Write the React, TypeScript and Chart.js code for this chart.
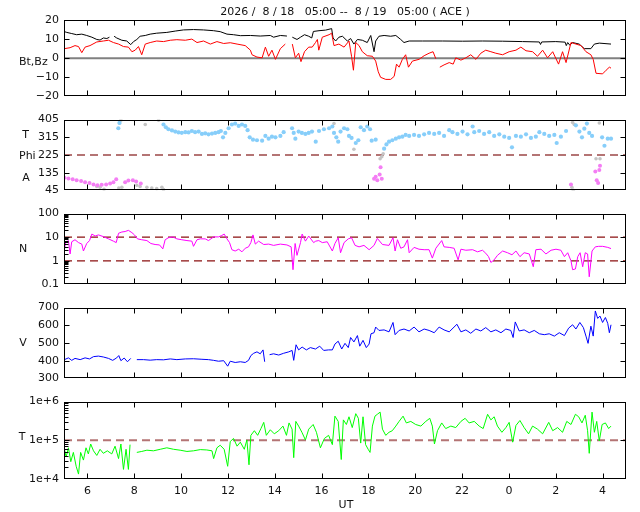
import React, { useEffect, useRef } from "react";
import { Chart, registerables } from "chart.js";

Chart.register(...registerables);

// ---------- data (hours since 00 UT on 8/18; values > 24 are 8/19) ----------
const X_MIN = 5;
const X_MAX = 29;
const hourTicks = [6, 8, 10, 12, 14, 16, 18, 20, 22, 24, 26, 28];

const btSeries = [
  [5.02, 13.9], [5.12, 13.5], [5.33, 12.9], [5.54, 12.3], [5.76, 12.6], [5.97, 11.9], [6.19, 11.0], [6.4, 9.8],
  [6.54, 9.5], [6.68, 10.6], [6.83, 10.3], [6.94, 11.0], [7.04, null], [7.14, 11.5], [7.25, 10.6], [7.47, 9.4],
  [7.68, 9.0], [7.85, 7.1], [7.97, 8.7], [8.11, 9.8], [8.25, 11.5], [8.47, 11.9], [8.68, 12.6], [8.96, 13.1],
  [9.39, 13.5], [9.75, 14.2], [10.1, 14.8], [10.53, 15.0], [10.96, 14.8], [11.39, 14.4], [11.67, 13.9],
  [11.96, 12.6], [12.24, 12.3], [12.53, 11.8], [12.96, 11.9], [13.38, 11.6], [13.81, 11.9], [13.95, 11.0],
  [14.24, 11.9], [14.52, 11.6], [14.64, null], [14.75, 11.0], [14.95, 9.8], [15.1, 11.0], [15.27, 12.3],
  [15.45, 11.5], [15.58, 10.6], [15.65, 14.0], [15.89, 14.4], [16.17, 14.7], [16.43, 15.5], [16.49, 10.6],
  [16.6, 9.0], [16.74, 11.0], [16.89, 11.5], [17.1, 9.0], [17.24, 10.3], [17.38, 7.4], [17.53, 9.8],
  [17.74, 9.4], [17.95, 8.2], [18.1, 11.9], [18.24, 3.4], [18.31, 9.0], [18.45, 11.5], [18.67, 11.9],
  [18.95, 11.5], [19.17, 11.9], [19.38, 9.8], [19.52, 8.2], [19.74, 9.0], [20.31, 9.0], [21.16, 9.0],
  [22.02, 8.9], [22.87, 9.0], [23.73, 8.9], [24.58, 8.7], [25.3, 8.5], [25.35, 7.2], [25.4, 8.5], [26.0, 8.7],
  [26.4, 8.4], [26.45, 6.6], [26.51, 8.2], [26.6, 6.8], [26.72, 8.2], [27.0, 7.4], [27.22, 5.0], [27.5, 5.0],
  [27.65, 7.4], [27.86, 7.9], [28.36, 7.4],
];

const bzSeries = [
  [5.02, 5.0], [5.26, 5.5], [5.47, 6.6], [5.62, 6.1], [5.76, 2.9], [5.9, 5.8], [6.11, 6.6], [6.4, 8.5],
  [6.68, 9.0], [6.9, 9.4], [7.11, 8.2], [7.33, 7.4], [7.54, 6.1], [7.75, 5.8], [7.9, 3.4], [8.04, 4.2],
  [8.18, 6.1], [8.32, 1.8], [8.47, 7.4], [8.68, 8.2], [8.96, 9.0], [9.25, 8.7], [9.54, 9.4], [9.82, 9.7],
  [10.18, 9.4], [10.46, 10.0], [10.68, 8.2], [10.96, 9.0], [11.25, 7.4], [11.53, 8.7], [11.82, 7.7],
  [12.1, 8.1], [12.39, 7.4], [12.74, 6.6], [12.96, 4.2], [13.03, 1.8], [13.24, 0.6], [13.46, 0.2],
  [13.6, 5.8], [13.74, 1.0], [13.88, 4.2], [14.03, -0.6], [14.24, 5.0], [14.45, 7.4], [14.61, null],
  [14.75, 7.4], [14.88, 0.2], [15.02, 2.6], [15.12, -1.8], [15.27, 3.4], [15.45, 5.8], [15.6, 5.8],
  [15.74, 8.2], [15.82, 9.8], [15.88, 4.2], [16.03, 11.0], [16.32, 12.3], [16.43, 13.1], [16.53, 6.6],
  [16.74, 7.4], [16.96, 5.8], [17.17, 9.0], [17.28, 1.0], [17.36, -6.3], [17.46, 8.2], [17.6, 6.6],
  [17.74, 3.4], [17.95, 1.3], [18.17, 1.0], [18.31, -1.5], [18.42, -7.1], [18.52, -10.0], [18.74, -11.1],
  [18.95, -11.1], [19.1, -9.5], [19.2, -3.1], [19.31, -4.7], [19.45, -0.6], [19.59, 1.8], [19.71, -4.7],
  [19.88, -1.5], [20.16, -0.6], [20.38, 1.3], [20.59, 2.6], [20.76, 3.4], [20.88, -0.3], [20.96, null],
  [21.05, -4.7], [21.23, -3.5], [21.45, -2.3], [21.62, -3.1], [21.73, 0.2], [21.95, -1.0], [22.16, 0.2],
  [22.37, 1.8], [22.59, -0.6], [22.8, 2.6], [23.01, 4.2], [23.23, 3.4], [23.44, 2.6], [23.73, 1.8],
  [24.01, 3.4], [24.3, 4.2], [24.51, 5.8], [24.73, 3.9], [25.01, 3.4], [25.22, 1.0], [25.44, 4.2],
  [25.65, 0.2], [25.87, 3.4], [26.12, -3.1], [26.29, 3.4], [26.44, -2.3], [26.65, 8.2], [26.86, 7.4],
  [27.08, 6.6], [27.29, 3.4], [27.5, 1.8], [27.6, -0.6], [27.72, -7.9], [28.0, -8.2], [28.15, -6.3],
  [28.29, -4.7], [28.36, -5.2],
];

const phiBluePoints = [
  [7.32, 361], [7.37, 388], [9.25, 380], [9.35, 366], [9.46, 356], [9.61, 350], [9.75, 344], [9.89, 340],
  [10.03, 338], [10.18, 341], [10.32, 340], [10.46, 347], [10.6, 341], [10.75, 344], [10.89, 332],
  [11.03, 335], [11.17, 330], [11.32, 334], [11.46, 337], [11.6, 341], [11.7, 347], [11.79, 315],
  [11.89, 337], [12.03, 361], [12.17, 380], [12.31, 385], [12.46, 373], [12.6, 380], [12.74, 373],
  [12.84, 351], [12.93, 315], [13.07, 303], [13.24, 300], [13.46, 298], [13.6, 322], [13.74, 308],
  [13.88, 318], [14.03, 315], [14.24, 322], [14.38, 341], [14.74, 361], [14.81, 337], [14.88, 308],
  [15.02, 344], [15.16, 337], [15.31, 332], [15.45, 337], [15.59, 344], [15.75, 293], [15.89, 347],
  [16.1, 356], [16.32, 361], [16.46, 370], [16.53, 337], [16.63, 315], [16.71, 293], [16.81, 344],
  [16.96, 361], [17.1, 356], [17.17, 322], [17.28, 312], [17.46, 286], [17.57, 300], [17.67, 366],
  [17.81, 351], [17.95, 370], [18.07, 356], [18.14, 298], [18.31, 303], [18.67, 257], [18.77, 279],
  [18.88, 293], [19.02, 300], [19.17, 308], [19.31, 315], [19.45, 318], [19.59, 327], [19.74, 322],
  [19.95, 327], [20.16, 322], [20.38, 330], [20.59, 337], [20.81, 332], [21.02, 337], [21.23, 322],
  [21.45, 351], [21.59, 341], [21.8, 332], [22.02, 344], [22.23, 330], [22.45, 370], [22.52, 341],
  [22.73, 347], [22.94, 332], [23.16, 341], [23.37, 322], [23.59, 330], [23.8, 318], [24.01, 312],
  [24.13, 264], [24.3, 322], [24.51, 318], [24.73, 330], [24.94, 312], [25.15, 318], [25.3, 341],
  [25.51, 332], [25.72, 322], [25.94, 327], [26.04, 286], [26.22, 318], [26.44, 347], [26.86, 376],
  [27.01, 344], [27.12, 315], [27.22, 359], [27.33, 385], [27.43, 337], [27.55, 322], [27.98, 315],
  [28.08, 272], [28.22, 308], [28.36, 308],
];

const phiMagentaPoints = [
  [5.02, 109], [5.19, 105], [5.37, 102], [5.54, 97], [5.73, 93], [5.9, 87], [6.09, 83], [6.26, 75],
  [6.43, 71], [6.61, 74], [6.8, 75], [6.97, 80], [7.11, 86], [7.23, 102], [7.61, 86], [7.75, 95],
  [7.94, 97], [8.08, 90], [8.28, 80], [18.24, 104], [18.31, 115], [18.38, 97], [18.48, 126],
  [18.52, 163], [18.57, 104], [26.65, 75], [27.69, 141], [27.75, 97], [27.81, 83], [27.86, 149],
  [27.89, 170],
];

const phiGrayPoints = [
  [6.4, 65], [6.54, 61], [6.71, 51], [7.34, 57], [7.37, 388], [7.43, 402], [7.47, 61], [8.11, 71],
  [8.25, 65], [8.47, 380], [8.54, 61], [8.75, 57], [8.96, 54], [9.04, 402], [9.18, 61], [9.25, 49],
  [16.53, 385], [17.38, 254], [18.5, 206], [18.57, 216], [18.63, 231], [26.69, 61], [26.72, 390],
  [26.75, 46], [26.79, 380], [27.72, 206], [27.86, 388], [27.89, 206],
];

const densitySeries = [
  [5.02, 2.95], [5.07, 5.9], [5.19, 7.2], [5.26, 1.95], [5.33, 6.4], [5.47, 7.8], [5.62, 5.9], [5.76, 5.1],
  [5.83, 2.6], [5.97, 5.4], [6.09, 7.2], [6.19, 13.6], [6.33, 11.2], [6.47, 12.5], [6.68, 10.6], [6.9, 8.5],
  [7.11, 6.8], [7.23, 5.9], [7.33, 14.7], [7.47, 16.6], [7.61, 17.4], [7.75, 19.5], [7.9, 15.6],
  [8.01, 12.5], [8.14, 8.5], [8.32, 7.8], [8.54, 7.2], [8.71, 5.4], [8.89, 4.9], [9.08, 4.7], [9.22, 3.2],
  [9.32, 7.8], [9.46, 9.5], [9.65, 10.3], [9.82, 8.5], [10.03, 7.8], [10.25, 7.2], [10.46, 6.8],
  [10.53, 4.1], [10.68, 7.8], [10.82, 8.5], [11.03, 8.5], [11.17, 7.2], [11.39, 10.3], [11.6, 10.3],
  [11.74, 11.8], [11.84, 13.6], [11.96, 8.5], [12.07, 5.9], [12.17, 2.95], [12.31, 2.6], [12.46, 3.1],
  [12.6, 2.4], [12.74, 3.4], [12.88, 3.9], [12.98, 5.9], [13.07, 12.5], [13.17, 5.1], [13.31, 6.8],
  [13.53, 4.9], [13.74, 5.1], [13.95, 4.5], [14.24, 5.1], [14.52, 4.7], [14.7, 3.9], [14.78, 0.42],
  [14.87, 5.4], [14.95, 1.7], [15.1, 5.9], [15.17, 13.6], [15.31, 6.8], [15.45, 11.2], [15.66, 5.9],
  [15.75, 6.8], [15.88, 7.2], [16.03, 5.9], [16.24, 6.4], [16.46, 2.6], [16.57, 5.4], [16.71, 9.5],
  [16.81, 2.2], [16.96, 5.9], [17.14, 8.5], [17.28, 9.5], [17.43, 4.5], [17.6, 3.9], [17.81, 4.5],
  [18.03, 2.95], [18.24, 4.5], [18.38, 8.9], [18.6, 4.9], [18.88, 4.5], [19.05, 9.5], [19.14, 2.6],
  [19.24, 7.8], [19.38, 3.4], [19.52, 3.9], [19.67, 7.8], [19.74, 2.2], [19.95, 3.7], [20.16, 3.1],
  [20.38, 2.95], [20.59, 2.95], [20.73, 1.3], [20.88, 3.4], [21.13, 7.2], [21.23, 3.9], [21.45, 3.7],
  [21.66, 3.4], [21.83, 1.1], [21.95, 3.1], [22.16, 2.8], [22.45, 2.95], [22.66, 2.4], [22.87, 2.8],
  [23.01, 2.1], [23.13, 1.5], [23.23, 0.85], [23.37, 1.1], [23.51, 1.7], [23.73, 2.6], [23.94, 2.2],
  [24.13, 1.8], [24.3, 2.6], [24.47, 1.5], [24.65, 2.2], [24.87, 1.95], [25.04, 0.56], [25.15, 2.95],
  [25.37, 3.1], [25.58, 1.95], [25.8, 2.8], [26.01, 3.1], [26.22, 2.8], [26.37, 1.5], [26.51, 2.2],
  [26.65, 1.0], [26.72, 0.42], [26.84, 0.45], [26.94, 1.5], [27.04, 2.2], [27.15, 0.56], [27.26, 2.2],
  [27.36, 1.95], [27.43, 0.21], [27.55, 2.6], [27.69, 3.9], [27.83, 4.1], [28.0, 4.1], [28.22, 3.7],
  [28.36, 3.3],
];

const speedSeries = [
  [5.02, 406], [5.19, 416], [5.33, 402], [5.47, 413], [5.69, 406], [5.9, 416], [6.09, 410], [6.26, 423],
  [6.47, 426], [6.68, 421], [6.9, 413], [7.08, 402], [7.25, 416], [7.34, 429], [7.43, 400], [7.57, 415],
  [7.71, 394], [7.85, 413], [7.97, null], [8.11, 406], [8.4, 406], [8.68, 403], [8.96, 406], [9.25, 405],
  [9.54, 410], [9.82, 406], [10.18, 410], [10.53, 411], [10.89, 408], [11.17, 406], [11.39, 402],
  [11.6, 397], [11.82, 400], [11.99, 369], [12.1, 397], [12.31, 390], [12.53, 394], [12.74, 390],
  [12.88, 402], [12.98, 429], [13.1, 442], [13.24, 450], [13.38, 439], [13.5, 461], [13.57, 394],
  [13.65, null], [13.78, 434], [13.95, 439], [14.17, 432], [14.38, 442], [14.6, 450], [14.74, 458],
  [14.81, 402], [14.91, 490], [15.02, 461], [15.17, 477], [15.35, 461], [15.52, 474], [15.74, 466],
  [15.92, 482], [16.09, 458], [16.3, 461], [16.46, 461], [16.57, 494], [16.71, 510], [16.86, 466],
  [17.0, 498], [17.14, 474], [17.24, 531], [17.38, 506], [17.53, 542], [17.63, 482], [17.77, 515],
  [17.91, 474], [18.03, 494], [18.11, 552], [18.24, 558], [18.31, 590], [18.45, 571], [18.67, 574],
  [18.88, 563], [19.05, 616], [19.14, 547], [19.31, 571], [19.52, 579], [19.74, 568], [19.95, 590],
  [20.16, 563], [20.38, 579], [20.59, 571], [20.81, 558], [21.02, 590], [21.23, 574], [21.45, 563],
  [21.78, 606], [21.95, 563], [22.16, 574], [22.37, 555], [22.59, 579], [22.8, 568], [23.01, 587],
  [23.23, 563], [23.44, 574], [23.66, 558], [23.87, 579], [24.08, 571], [24.18, 531], [24.27, 619],
  [24.44, 568], [24.65, 574], [24.87, 558], [25.08, 571], [25.3, 552], [25.51, 547], [25.72, 552],
  [25.94, 539], [26.15, 558], [26.37, 542], [26.55, 584], [26.72, 603], [26.86, 579], [27.03, 616],
  [27.18, 587], [27.29, 539], [27.38, 498], [27.5, 595], [27.6, 539], [27.69, 681], [27.79, 639],
  [27.89, 652], [28.0, 616], [28.12, 644], [28.22, 611], [28.29, 558], [28.36, 603],
];

const tempSeries = [
  [5.02, 58600], [5.09, 37000], [5.19, 64000], [5.29, 28000], [5.4, 48700], [5.52, 21300], [5.62, 13400],
  [5.71, 48700], [5.83, 30800], [5.94, 64000], [6.04, 44500], [6.14, 80200], [6.26, 53500], [6.4, 40600],
  [6.54, 58600], [6.68, 46100], [6.85, 53500], [7.04, 44500], [7.18, 70500], [7.33, 33700], [7.43, 80200],
  [7.54, 17700], [7.65, 58600], [7.75, 17700], [7.82, 77300], [7.95, null], [8.11, 48700], [8.32, 51500],
  [8.54, 55500], [8.82, 53500], [9.11, 58600], [9.39, 64000], [9.68, 58600], [9.96, 55500],
  [10.25, 51500], [10.53, 53500], [10.82, 57500], [11.1, 56300], [11.32, 53500], [11.39, 33700],
  [11.53, 64000], [11.67, 74500], [11.84, 58600], [11.99, 21300], [12.1, 92900], [12.24, 111700],
  [12.39, 70500], [12.53, 89500], [12.7, 58600], [12.81, 101900], [12.9, 23300], [12.98, 134300],
  [13.13, 177000], [13.27, 134300], [13.41, 201000], [13.53, 291000], [13.64, 134300], [13.81, 187000],
  [13.98, 147000], [14.17, 177000], [14.35, 233000], [14.5, 134300], [14.61, 281000], [14.74, 194000],
  [14.81, 35600], [14.9, 308000], [15.02, 233000], [15.16, 161000], [15.31, 101900], [15.45, 194000],
  [15.64, 256000], [15.78, 161000], [15.95, 64000], [16.12, 111700], [16.3, 134300], [16.46, 77300],
  [16.57, 421000], [16.71, 308000], [16.84, 31900], [16.93, 337000], [17.06, 256000], [17.17, 405000],
  [17.31, 213000], [17.46, 488000], [17.57, 370000], [17.67, 84700], [17.77, 405000], [17.88, 77300],
  [17.99, 58600], [18.07, 48700], [18.17, 233000], [18.28, 421000], [18.38, 470000], [18.5, 535000],
  [18.6, 194000], [18.74, 134300], [18.88, 161000], [19.02, 177000], [19.17, 233000], [19.31, 308000],
  [19.48, 421000], [19.62, 281000], [19.81, 308000], [20.02, 256000], [20.24, 233000], [20.45, 308000],
  [20.62, 370000], [20.73, 233000], [20.82, 80200], [20.95, 177000], [21.13, 281000], [21.3, 201000],
  [21.52, 233000], [21.73, 213000], [21.95, 308000], [22.13, 370000], [22.3, 281000], [22.52, 308000],
  [22.73, 233000], [22.9, 201000], [23.09, 470000], [23.23, 337000], [23.37, 405000], [23.51, 233000],
  [23.7, 161000], [23.87, 213000], [24.01, 291000], [24.16, 89500], [24.3, 242000], [24.47, 325000],
  [24.65, 213000], [24.84, 147000], [25.01, 233000], [25.22, 194000], [25.44, 147000], [25.7, 291000],
  [25.87, 177000], [26.08, 213000], [26.29, 161000], [26.47, 308000], [26.65, 256000], [26.84, 470000],
  [26.98, 405000], [27.12, 281000], [27.26, 444000], [27.36, 177000], [27.43, 46100], [27.55, 535000],
  [27.65, 161000], [27.75, 308000], [27.86, 96400], [27.98, 256000], [28.12, 281000], [28.26, 201000],
  [28.36, 233000],
];

const bTickValues = [-20, -10, 0, 10, 20];
const bTickLabels = ["\u221220", "\u221210", "0", "10", "20"];
const phiTickValues = [45, 135, 225, 315, 405];
const phiTickLabels = ["45", "135", "225", "315", "405"];
const nTickValues = [0.1, 1, 10, 100];
const nTickLabels = ["0.1", "1", "10", "100"];
const vTickValues = [300, 400, 500, 600, 700];
const vTickLabels = ["300", "400", "500", "600", "700"];
const tTickValues = [1e4, 1e5, 1e6];
const tTickLabels = ["1e+4", "1e+5", "1e+6"];

const zeroLineB = 0;
const phiRefLine = 225;
const nRefLines = [10, 1];
const tRefLine = 1e5;

// ---------- helpers ----------
const FONT = "'DejaVu Sans', sans-serif";

const toXY = (arr: any[]) => arr.map((p) => ({ x: p[0], y: p[1] }));
const hLine = (v: number) => [{ x: X_MIN, y: v }, { x: X_MAX, y: v }];

const logMinors = (lo: number, hi: number) => {
  const out: number[] = [];
  for (let d = lo; d < hi * 0.99; d *= 10) for (let k = 2; k <= 9; k++) out.push(d * k);
  return out;
};

const framePlugin = {
  id: "frame",
  afterDatasetsDraw(chart: any, _args: any, opts: any) {
    const { ctx, chartArea } = chart;
    const xs = chart.scales.x;
    const ys = chart.scales.y;
    const L = Math.round(chartArea.left) + 0.5;
    const R = Math.round(chartArea.right) - 0.5;
    const T = Math.round(chartArea.top) + 0.5;
    const B = Math.round(chartArea.bottom) - 0.5;
    ctx.save();
    ctx.strokeStyle = "#000";
    ctx.lineWidth = 1;
    ctx.beginPath();
    for (const h of hourTicks) {
      const px = Math.round(xs.getPixelForValue(h)) + 0.5;
      ctx.moveTo(px, T);
      ctx.lineTo(px, T + 5);
      ctx.moveTo(px, B);
      ctx.lineTo(px, B - 5);
    }
    for (const v of opts.major || []) {
      const py = Math.round(ys.getPixelForValue(v)) + 0.5;
      if (py <= T + 1 || py >= B - 1) continue;
      ctx.moveTo(L, py);
      ctx.lineTo(L + 5, py);
      ctx.moveTo(R, py);
      ctx.lineTo(R - 5, py);
    }
    for (const v of opts.minor || []) {
      const py = Math.round(ys.getPixelForValue(v)) + 0.5;
      ctx.moveTo(L, py);
      ctx.lineTo(L + 4, py);
    }
    ctx.stroke();
    ctx.strokeRect(L, T, R - L, B - T);
    ctx.restore();
  },
};

type Spec = {
  top: number;
  height: number;
  padTop: number;
  padBottom: number;
  yType: "linear" | "logarithmic";
  yMin: number;
  yMax: number;
  tickValues: number[];
  tickLabels: string[];
  minor?: number[];
  datasets: any[];
  showX?: boolean;
};

function Panel({ spec }: { spec: Spec }) {
  const ref = useRef<HTMLCanvasElement>(null);
  useEffect(() => {
    const chart = new Chart(ref.current as HTMLCanvasElement, {
      type: "line",
      data: { datasets: spec.datasets },
      options: {
        responsive: false,
        animation: false,
        events: [],
        layout: { padding: { left: 0, right: 14, top: spec.padTop, bottom: spec.padBottom } },
        plugins: {
          legend: { display: false },
          tooltip: { enabled: false },
          frame: { major: spec.tickValues, minor: spec.minor || [] },
        } as any,
        elements: { line: { tension: 0 } },
        scales: {
          x: {
            type: "linear",
            min: X_MIN,
            max: X_MAX,
            display: !!spec.showX,
            grid: { display: false, drawTicks: false },
            border: { display: false },
            ticks: {
              padding: 6,
              color: "#111",
              font: { family: FONT, size: 11 },
              maxRotation: 0,
              autoSkip: false,
              callback: (v: any) => String(Number(v) % 24),
            },
            afterBuildTicks: (s: any) => {
              s.ticks = hourTicks.map((v) => ({ value: v }));
            },
            afterFit: (s: any) => {
              s.height = spec.showX ? 33 : 0;
            },
          },
          y: {
            type: spec.yType,
            min: spec.yMin,
            max: spec.yMax,
            grid: { display: false, drawTicks: false },
            border: { display: false },
            ticks: {
              padding: 5,
              color: "#111",
              font: { family: FONT, size: 11 },
              autoSkip: false,
              callback: (v: any) => {
                const i = spec.tickValues.findIndex((t) => Math.abs(t - Number(v)) < Math.abs(t) * 1e-6 + 1e-9);
                return i >= 0 ? spec.tickLabels[i] : "";
              },
            },
            afterBuildTicks: (s: any) => {
              s.ticks = spec.tickValues.map((v) => ({ value: v }));
            },
            afterFit: (s: any) => {
              s.width = 64;
            },
          },
        } as any,
      },
      plugins: [framePlugin as any],
    });
    return () => chart.destroy();
  }, []);
  return (
    <canvas
      ref={ref}
      width={640}
      height={spec.height}
      style={{ position: "absolute", left: 0, top: spec.top, width: 640, height: spec.height }}
    />
  );
}

const lineDs = (data: any[], color: string, width = 1) => ({
  data: toXY(data),
  borderColor: color,
  borderWidth: width,
  pointRadius: 0,
  spanGaps: false,
  fill: false,
});

const refDs = (v: number, color: string, width: number, dash: number[] = []) => ({
  data: hLine(v),
  borderColor: color,
  borderWidth: width,
  borderDash: dash,
  pointRadius: 0,
  fill: false,
});

const dotDs = (data: any[], color: string, r = 1.8) => ({
  data: toXY(data),
  showLine: false,
  pointRadius: r,
  pointBorderWidth: 0,
  pointBackgroundColor: color,
  borderColor: color,
});

const specs: Spec[] = [
  {
    top: 0, height: 108, padTop: 20, padBottom: 5,
    yType: "linear", yMin: -20, yMax: 20,
    tickValues: bTickValues, tickLabels: bTickLabels,
    datasets: [lineDs(bzSeries, "#ff0000"), lineDs(btSeries, "#000000"), refDs(zeroLineB, "#808080", 2)],
  },
  {
    top: 108, height: 94, padTop: 6, padBottom: 5,
    yType: "linear", yMin: 45, yMax: 405,
    tickValues: phiTickValues, tickLabels: phiTickLabels,
    datasets: [
      dotDs(phiMagentaPoints, "#f47ef4", 2),
      dotDs(phiBluePoints, "#87cefa", 2.1),
      dotDs(phiGrayPoints, "#c4c4c4", 1.8),
      refDs(phiRefLine, "#b47474", 2, [8, 5]),
    ],
  },
  {
    top: 202, height: 94, padTop: 6, padBottom: 5,
    yType: "logarithmic", yMin: 0.1, yMax: 100,
    tickValues: nTickValues, tickLabels: nTickLabels, minor: logMinors(0.1, 100),
    datasets: [
      lineDs(densitySeries, "#ff00ff"),
      refDs(nRefLines[0], "#8b1010", 1.2, [8, 5]),
      refDs(nRefLines[1], "#8b1010", 1.2, [8, 5]),
    ],
  },
  {
    top: 296, height: 94, padTop: 6, padBottom: 5,
    yType: "linear", yMin: 300, yMax: 700,
    tickValues: vTickValues, tickLabels: vTickLabels,
    datasets: [lineDs(speedSeries, "#0000ff")],
  },
  {
    top: 390, height: 122, padTop: 5, padBottom: 0,
    yType: "logarithmic", yMin: 1e4, yMax: 1e6,
    tickValues: tTickValues, tickLabels: tTickLabels, minor: logMinors(1e4, 1e6),
    showX: true,
    datasets: [lineDs(tempSeries, "#00ff00"), refDs(tRefLine, "#b47474", 2, [8, 5])],
  },
];

function Label({ x, y, text, center }: { x: number; y: number; text: string; center?: boolean }) {
  return (
    <div
      style={{
        position: "absolute",
        left: center ? x - 200 : x,
        width: center ? 400 : undefined,
        textAlign: center ? "center" : "left",
        top: y - 7,
        height: 14,
        lineHeight: "14px",
        fontFamily: FONT,
        fontSize: 11,
        color: "#111",
        whiteSpace: "pre",
      }}
    >
      {text}
    </div>
  );
}

export default function App() {
  return (
    <div style={{ position: "absolute", left: 0, top: 0, width: 640, height: 512, background: "#fff", overflow: "hidden" }}>
      {specs.map((s, i) => (
        <Panel key={i} spec={s} />
      ))}
      <Label x={345} y={12} center text={"2026 /  8 / 18   05:00 --  8 / 19   05:00 ( ACE )"} />
      <Label x={19} y={62} text="Bt,Bz" />
      <Label x={25.5} y={135} center text="T" />
      <Label x={19} y={156} text="Phi" />
      <Label x={26} y={178} center text="A" />
      <Label x={23} y={249} center text="N" />
      <Label x={23} y={343} center text="V" />
      <Label x={22} y={437} center text="T" />
      <Label x={346} y={505} center text="UT" />
    </div>
  );
}
